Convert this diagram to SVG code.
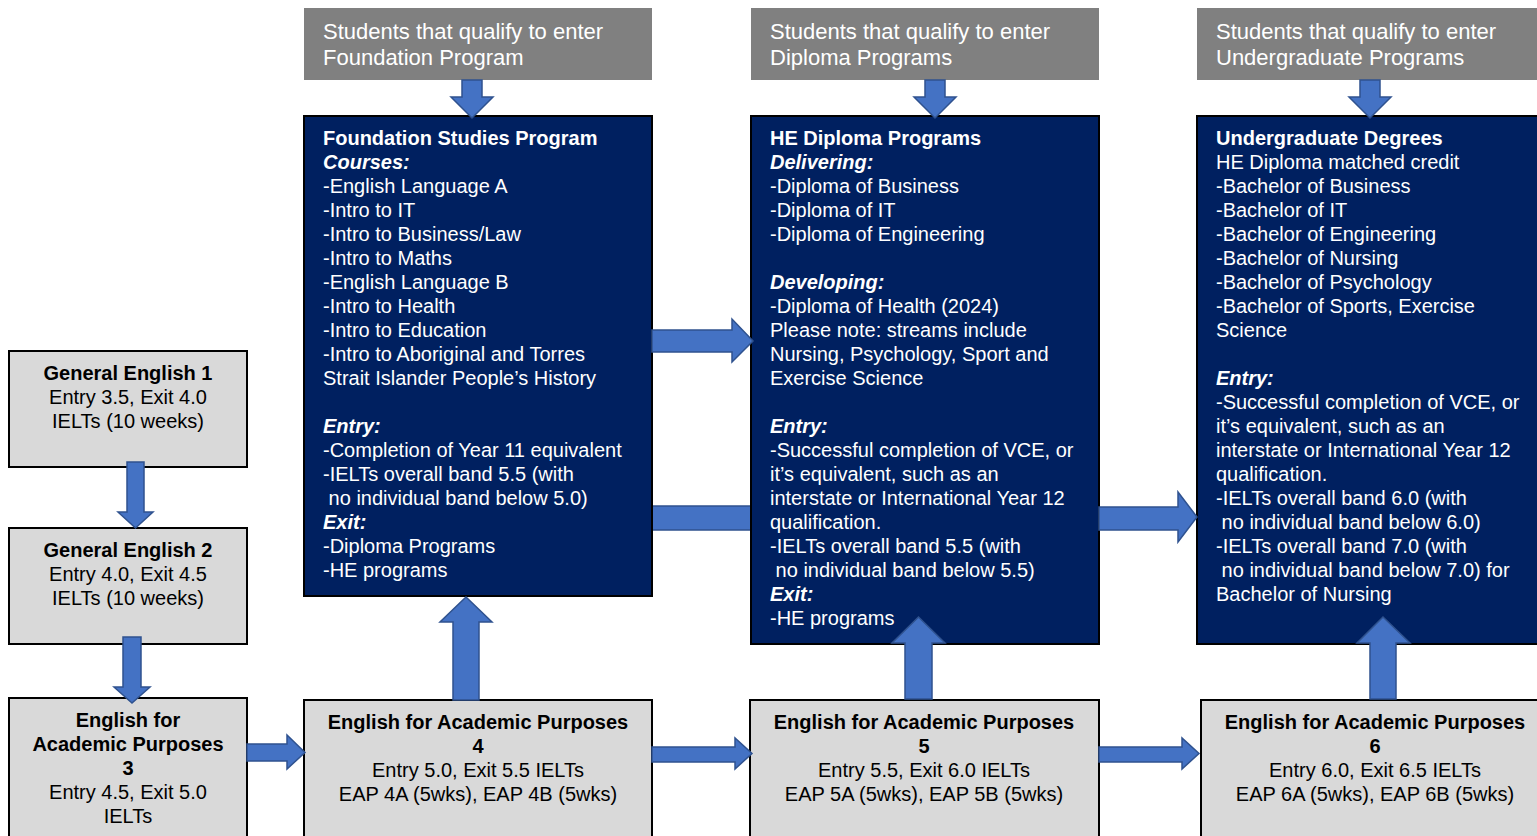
<svg xmlns="http://www.w3.org/2000/svg" width="1537" height="836" viewBox="0 0 1537 836">
<style>
text{font-family:"Liberation Sans",Arial,sans-serif;font-size:20px;}
.hdr{fill:#808080;}
.hdrt{fill:#ffffff;font-size:22px;}
.dark{fill:#002060;stroke:#000;stroke-width:2;}
.dt{fill:#ffffff;}
.gray{fill:#D9D9D9;stroke:#000;stroke-width:2;}
.gt{fill:#000;text-anchor:middle;}
.b{font-weight:bold;}
.bi{font-weight:bold;font-style:italic;}
.arr{fill:#4472C4;stroke:#2F528F;stroke-width:1.5;}
</style>
<g id="connectors-back">
<polygon class="arr" points="652,506 751,506 751,530 652,530"/>
</g>
<g id="hdr-foundation">
<rect class="hdr" x="304" y="8" width="348" height="72"/>
<text class="hdrt" x="323" y="39">Students that qualify to enter</text>
<text class="hdrt" x="323" y="65">Foundation Program</text>
</g>
<g id="hdr-diploma">
<rect class="hdr" x="751" y="8" width="348" height="72"/>
<text class="hdrt" x="770" y="39">Students that qualify to enter</text>
<text class="hdrt" x="770" y="65">Diploma Programs</text>
</g>
<g id="hdr-undergrad">
<rect class="hdr" x="1197" y="8" width="341" height="72"/>
<text class="hdrt" x="1216" y="39">Students that qualify to enter</text>
<text class="hdrt" x="1216" y="65">Undergraduate Programs</text>
</g>
<g id="foundation">
<rect class="dark" x="304" y="116" width="348" height="480"/>
<g class="dt">
<text class="b" x="323" y="145">Foundation Studies Program</text>
<text class="bi" x="323" y="169">Courses:</text>
<text x="323" y="193">-English Language A</text>
<text x="323" y="217">-Intro to IT</text>
<text x="323" y="241">-Intro to Business/Law</text>
<text x="323" y="265">-Intro to Maths</text>
<text x="323" y="289">-English Language B</text>
<text x="323" y="313">-Intro to Health</text>
<text x="323" y="337">-Intro to Education</text>
<text x="323" y="361">-Intro to Aboriginal and Torres</text>
<text x="323" y="385">Strait Islander People’s History</text>
<text class="bi" x="323" y="433">Entry:</text>
<text x="323" y="457">-Completion of Year 11 equivalent</text>
<text x="323" y="481">-IELTs overall band 5.5 (with</text>
<text x="328.6" y="505">no individual band below 5.0)</text>
<text class="bi" x="323" y="529">Exit:</text>
<text x="323" y="553">-Diploma Programs</text>
<text x="323" y="577">-HE programs</text>
</g>
</g>
<g id="diploma">
<rect class="dark" x="751" y="116" width="348" height="528"/>
<g class="dt">
<text class="b" x="770" y="145">HE Diploma Programs</text>
<text class="bi" x="770" y="169">Delivering:</text>
<text x="770" y="193">-Diploma of Business</text>
<text x="770" y="217">-Diploma of IT</text>
<text x="770" y="241">-Diploma of Engineering</text>
<text class="bi" x="770" y="289">Developing:</text>
<text x="770" y="313">-Diploma of Health (2024)</text>
<text x="770" y="337">Please note: streams include</text>
<text x="770" y="361">Nursing, Psychology, Sport and</text>
<text x="770" y="385">Exercise Science</text>
<text class="bi" x="770" y="433">Entry:</text>
<text x="770" y="457">-Successful completion of VCE, or</text>
<text x="770" y="481">it’s equivalent, such as an</text>
<text x="770" y="505">interstate or International Year 12</text>
<text x="770" y="529">qualification.</text>
<text x="770" y="553">-IELTs overall band 5.5 (with</text>
<text x="775.6" y="577">no individual band below 5.5)</text>
<text class="bi" x="770" y="601">Exit:</text>
<text x="770" y="625">-HE programs</text>
</g>
</g>
<g id="undergrad">
<rect class="dark" x="1197" y="116" width="342" height="528"/>
<g class="dt">
<text class="b" x="1216" y="145">Undergraduate Degrees</text>
<text x="1216" y="169">HE Diploma matched credit</text>
<text x="1216" y="193">-Bachelor of Business</text>
<text x="1216" y="217">-Bachelor of IT</text>
<text x="1216" y="241">-Bachelor of Engineering</text>
<text x="1216" y="265">-Bachelor of Nursing</text>
<text x="1216" y="289">-Bachelor of Psychology</text>
<text x="1216" y="313">-Bachelor of Sports, Exercise</text>
<text x="1216" y="337">Science</text>
<text class="bi" x="1216" y="385">Entry:</text>
<text x="1216" y="409">-Successful completion of VCE, or</text>
<text x="1216" y="433">it’s equivalent, such as an</text>
<text x="1216" y="457">interstate or International Year 12</text>
<text x="1216" y="481">qualification.</text>
<text x="1216" y="505">-IELTs overall band 6.0 (with</text>
<text x="1221.6" y="529">no individual band below 6.0)</text>
<text x="1216" y="553">-IELTs overall band 7.0 (with</text>
<text x="1221.6" y="577">no individual band below 7.0) for</text>
<text x="1216" y="601">Bachelor of Nursing</text>
</g>
</g>
<g id="ge1">
<rect class="gray" x="9" y="351" width="238" height="116"/>
<text class="gt b" x="128" y="380">General English 1</text>
<text class="gt" x="128" y="404">Entry 3.5, Exit 4.0</text>
<text class="gt" x="128" y="428">IELTs (10 weeks)</text>
</g>
<g id="ge2">
<rect class="gray" x="9" y="528" width="238" height="116"/>
<text class="gt b" x="128" y="557">General English 2</text>
<text class="gt" x="128" y="581">Entry 4.0, Exit 4.5</text>
<text class="gt" x="128" y="605">IELTs (10 weeks)</text>
</g>
<g id="eap3">
<rect class="gray" x="9" y="698" width="238" height="150"/>
<text class="gt b" x="128" y="727">English for</text>
<text class="gt b" x="128" y="751">Academic Purposes</text>
<text class="gt b" x="128" y="775">3</text>
<text class="gt" x="128" y="799">Entry 4.5, Exit 5.0</text>
<text class="gt" x="128" y="823">IELTs</text>
</g>
<g id="eap4">
<rect class="gray" x="304" y="700" width="348" height="150"/>
<text class="gt b" x="478" y="729">English for Academic Purposes</text>
<text class="gt b" x="478" y="753">4</text>
<text class="gt" x="478" y="777">Entry 5.0, Exit 5.5 IELTs</text>
<text class="gt" x="478" y="801">EAP 4A (5wks), EAP 4B (5wks)</text>
</g>
<g id="eap5">
<rect class="gray" x="750" y="700" width="349" height="150"/>
<text class="gt b" x="924" y="729">English for Academic Purposes</text>
<text class="gt b" x="924" y="753">5</text>
<text class="gt" x="924" y="777">Entry 5.5, Exit 6.0 IELTs</text>
<text class="gt" x="924" y="801">EAP 5A (5wks), EAP 5B (5wks)</text>
</g>
<g id="eap6">
<rect class="gray" x="1201" y="700" width="340" height="150"/>
<text class="gt b" x="1375" y="729">English for Academic Purposes</text>
<text class="gt b" x="1375" y="753">6</text>
<text class="gt" x="1375" y="777">Entry 6.0, Exit 6.5 IELTs</text>
<text class="gt" x="1375" y="801">EAP 6A (5wks), EAP 6B (5wks)</text>
</g>
<g id="connectors">
<polygon class="arr" points="462,80 482,80 482,97 493,97 472,118 451,97 462,97"/>
<polygon class="arr" points="925,80 945,80 945,97 956,97 935,118 914,97 925,97"/>
<polygon class="arr" points="1360,80 1380,80 1380,97 1391,97 1370,118 1349,97 1360,97"/>
<polygon class="arr" points="127,462 144,462 144,512 153,512 135.5,528 118,512 127,512"/>
<polygon class="arr" points="123,637 141,637 141,687 150,687 132,703 114,687 123,687"/>
<polygon class="arr" points="247,744 287,744 287,735 305,752.5 287,769 287,761 247,761"/>
<polygon class="arr" points="652,747 735,747 735,738 752,753.5 735,769 735,762 652,762"/>
<polygon class="arr" points="1099,747 1182,747 1182,738 1199,753.5 1182,769 1182,762 1099,762"/>
<polygon class="arr" points="453,700 453,622 440,622 466,597 492,622 479,622 479,700"/>
<polygon class="arr" points="905,699 905,643 892,643 918.5,617 945,643 932,643 932,699"/>
<polygon class="arr" points="1370,699 1370,643 1357,643 1383,617 1410,643 1396,643 1396,699"/>
<polygon class="arr" points="652,330 732,330 732,319 753,341 732,362 732,352 652,352"/>
<polygon class="arr" points="1099,507 1178,507 1178,492 1197,517 1178,542 1178,530 1099,530"/>
</g>
</svg>
